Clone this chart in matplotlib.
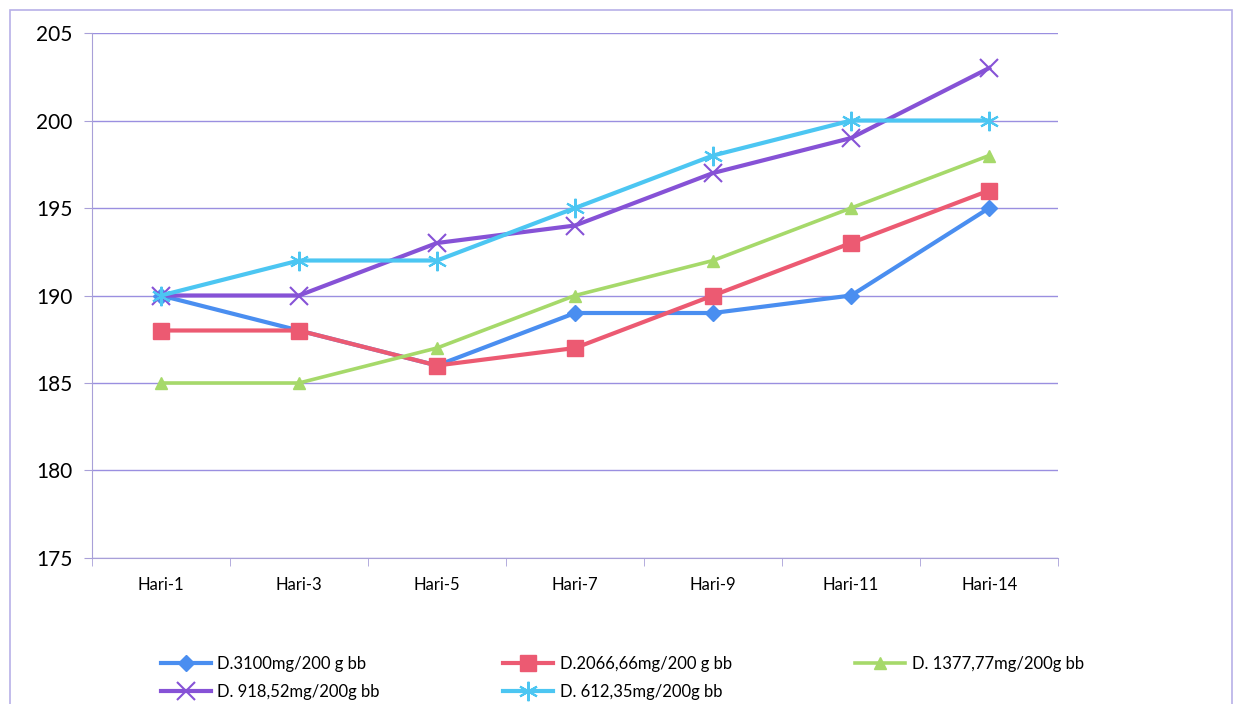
import matplotlib.pyplot as plt
from matplotlib.patches import Rectangle

plt.rcParams['font.family'] = ['Lato', 'DejaVu Sans']

hari = ["Hari-1", "Hari-3", "Hari-5", "Hari-7", "Hari-9", "Hari-11", "Hari-14"]
d3100 = [190, 188, 186, 189, 189, 190, 195]
d2066 = [188, 188, 186, 187, 190, 193, 196]
d1377 = [185, 185, 187, 190, 192, 195, 198]
d918 = [190, 190, 193, 194, 197, 199, 203]
d612 = [190, 192, 192, 195, 198, 200, 200]

labels = ["D.3100mg/200 g bb", "D.2066,66mg/200 g bb", "D. 1377,77mg/200g bb",
          "D. 918,52mg/200g bb", "D. 612,35mg/200g bb"]
series = [d3100, d2066, d1377, d918, d612]
colors = ["#4a8ef0", "#ec5a72", "#a6d96a", "#8652d6", "#4cc6f2"]
markers = ["D", "s", "^", "x", (6, 2, 0)]
msizes = [8, 11, 9, 13, 14]
widths = [3, 3, 2.6, 3, 3]

fig = plt.figure(figsize=(12.42, 7.04), dpi=100)
ax = fig.add_axes([0.074, 0.2074, 0.778, 0.7457])

x = list(range(len(hari)))
handles = []
for s, lab, c, m, ms, lw in zip(series, labels, colors, markers, msizes, widths):
    edge = 1.5 if m in ("x", (6, 2, 0)) else 1
    h, = ax.plot(x, s, color=c, lw=lw, marker=m, markersize=ms, label=lab,
                 markeredgewidth=edge, markeredgecolor=c)
    handles.append(h)

ax.set_ylim(175, 205)
ax.set_xlim(-0.5, len(hari) - 0.5)
ax.set_yticks(range(175, 206, 5))
ax.grid(axis='y', color='#9a8fe0', lw=1)
ax.set_axisbelow(True)
ax.set_xticks(x)
ax.set_xticklabels(hari, fontsize=12)
ax.set_xticks([i - 0.5 for i in range(len(hari) + 1)], minor=True)
ax.tick_params(axis='x', which='major', length=0, pad=14)
ax.tick_params(axis='x', which='minor', length=6, color='#a8a0d8')
ax.tick_params(axis='y', labelsize=15, length=6, color='#a8a0d8', pad=8)
for sp in ['top', 'right']:
    ax.spines[sp].set_visible(False)
for sp in ['left', 'bottom']:
    ax.spines[sp].set_color('#a8a0d8')

# legend reads row by row in the original, matplotlib fills by column
order = [0, 3, 1, 4, 2]
fig.legend([handles[i] for i in order], [labels[i] for i in order],
           ncol=3, loc='lower left', bbox_to_anchor=(0.124, -0.004), frameon=False,
           fontsize=12, columnspacing=7.4, handlelength=3.0, handletextpad=0.4,
           labelspacing=0.75, borderaxespad=0.0)

fig.patches.append(Rectangle((10 / 1242, -0.01), 1222 / 1242, 1 - 10 / 704 + 0.01,
                             transform=fig.transFigure, fill=False,
                             edgecolor='#b8b0e8', lw=1.2))

fig.savefig("out.png", dpi=100)
